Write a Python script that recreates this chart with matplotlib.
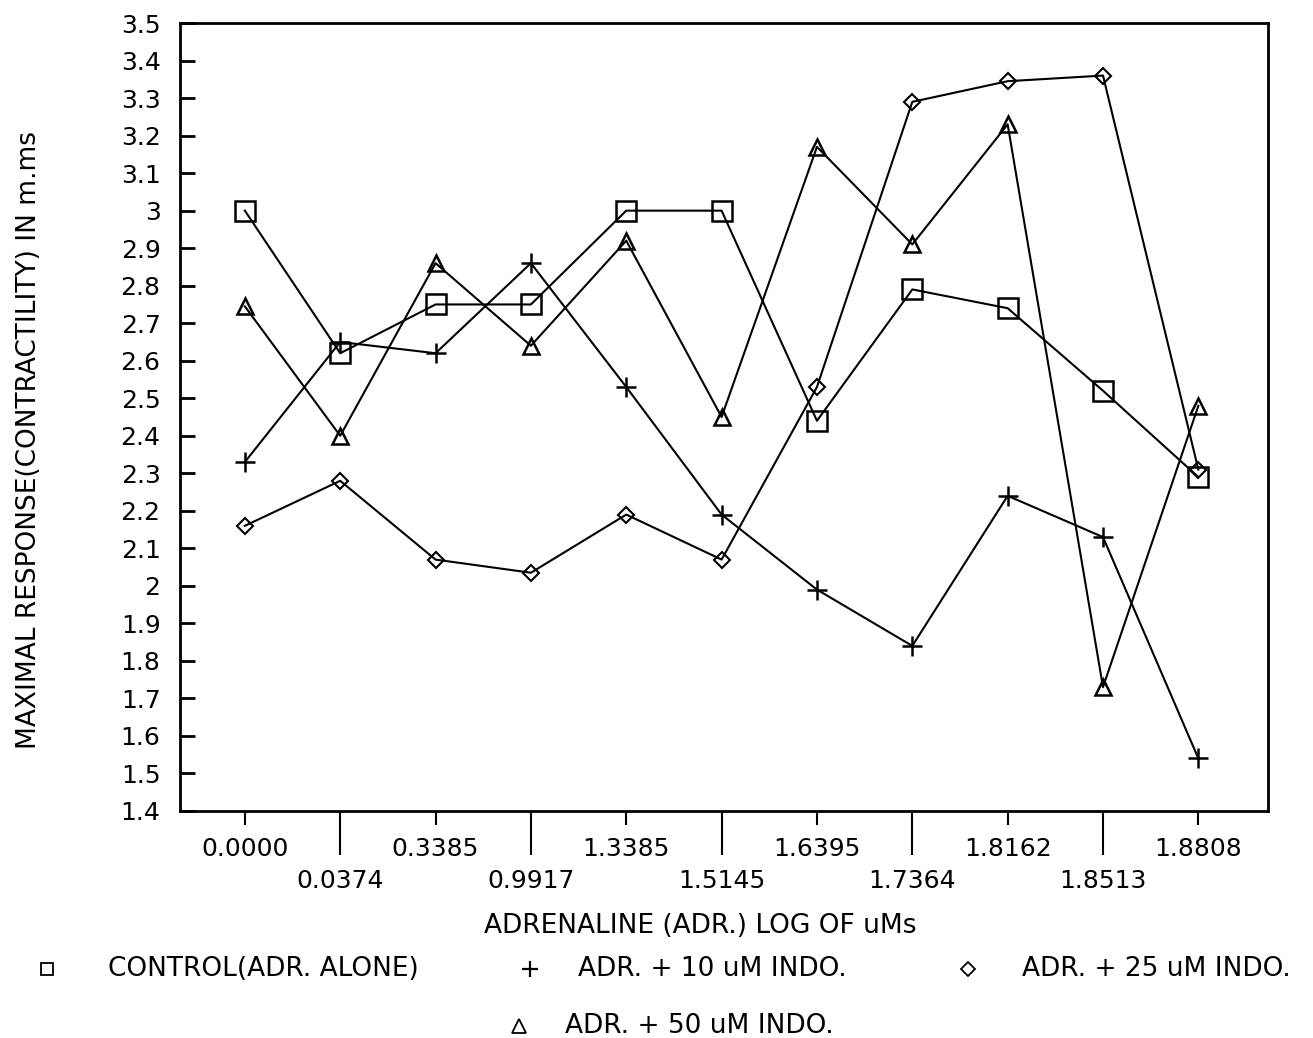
import matplotlib.pyplot as plt
import numpy as np

# x categories (log of uM adrenaline)
x_labels = ["0.0000", "0.0374", "0.3385", "0.9917", "1.3385", "1.5145",
            "1.6395", "1.7364", "1.8162", "1.8513", "1.8808"]

# series values
control = [3.00, 2.62, 2.75, 2.75, 3.00, 3.00, 2.44, 2.79, 2.74, 2.52, 2.29]
indo10 = [2.33, 2.65, 2.62, 2.86, 2.53, 2.19, 1.99, 1.84, 2.24, 2.13, 1.54]
indo25 = [2.16, 2.28, 2.07, 2.035, 2.19, 2.07, 2.53, 3.29, 3.345, 3.36, 2.31]
indo50 = [2.745, 2.40, 2.86, 2.64, 2.92, 2.45, 3.17, 2.91, 3.23, 1.73, 2.48]

y_ticks = [1.4, 1.5, 1.6, 1.7, 1.8, 1.9, 2, 2.1, 2.2, 2.3, 2.4, 2.5, 2.6,
           2.7, 2.8, 2.9, 3, 3.1, 3.2, 3.3, 3.4, 3.5]

plt.rcParams['font.family'] = ['DejaVu Sans']

fig = plt.figure(figsize=(13.13, 10.38), dpi=100)
ax = fig.add_axes([0.1371, 0.2187, 0.8286, 0.7591])

x = np.arange(len(x_labels))

# plot the four series
ax.plot(x, control, color='black', lw=1.5, marker='s', ms=14, mfc='none', mew=1.8)
ax.plot(x, indo10, color='black', lw=1.5, marker='+', ms=14, mew=1.8)
ax.plot(x, indo25, color='black', lw=1.5, marker='D', ms=8, mfc='none', mew=1.5)
ax.plot(x, indo50, color='black', lw=1.5, marker='^', ms=12, mfc='none', mew=1.8)

ax.set_xlim(-0.68, 10.73)
ax.set_ylim(1.4, 3.5)

# y axis ticks
ax.set_yticks(y_ticks)
ax.set_yticklabels([f"{v:g}" for v in y_ticks])
ax.tick_params(axis='y', direction='in', length=11, width=2, labelsize=18, pad=14)

# x ticks: even labels on first row, odd labels lower with long ticks
even = x[::2]
odd = x[1::2]
ax.set_xticks(even, [x_labels[i] for i in even])
ax.set_xticks(odd, [x_labels[i] for i in odd], minor=True)
ax.tick_params(axis='x', which='major', direction='out', length=10, width=1.5,
               labelsize=18, pad=9)
ax.tick_params(axis='x', which='minor', direction='out', length=32, width=1.5,
               labelsize=18, pad=10)

for s in ax.spines.values():
    s.set_linewidth(2)

fig.text(0.022, 0.576, "MAXIMAL RESPONSE(CONTRACTILITY) IN m.ms", rotation=90,
         ha='center', va='center', fontsize=19)
fig.text(0.533, 0.108, "ADRENALINE (ADR.) LOG OF uMs", ha='center', va='center',
         fontsize=19)

# legend drawn below the chart
ly1 = 0.066
ly2 = 0.012
fig.lines.append(plt.Line2D([0.036], [ly1], transform=fig.transFigure, marker='s',
                            ms=9, mfc='none', mec='black', mew=1.3))
fig.text(0.082, ly1, "CONTROL(ADR. ALONE)", va='center', fontsize=19)
fig.lines.append(plt.Line2D([0.404], [ly1], transform=fig.transFigure, marker='+',
                            ms=12, mec='black', mew=1.6))
fig.text(0.440, ly1, "ADR. + 10 uM INDO.", va='center', fontsize=19)
fig.lines.append(plt.Line2D([0.737], [ly1], transform=fig.transFigure, marker='D',
                            ms=7, mfc='none', mec='black', mew=1.3))
fig.text(0.778, ly1, "ADR. + 25 uM INDO.", va='center', fontsize=19)
fig.lines.append(plt.Line2D([0.395], [ly2], transform=fig.transFigure, marker='^',
                            ms=10, mfc='none', mec='black', mew=1.3))
fig.text(0.430, ly2, "ADR. + 50 uM INDO.", va='center', fontsize=19)

fig.savefig("out.png", dpi=100)
